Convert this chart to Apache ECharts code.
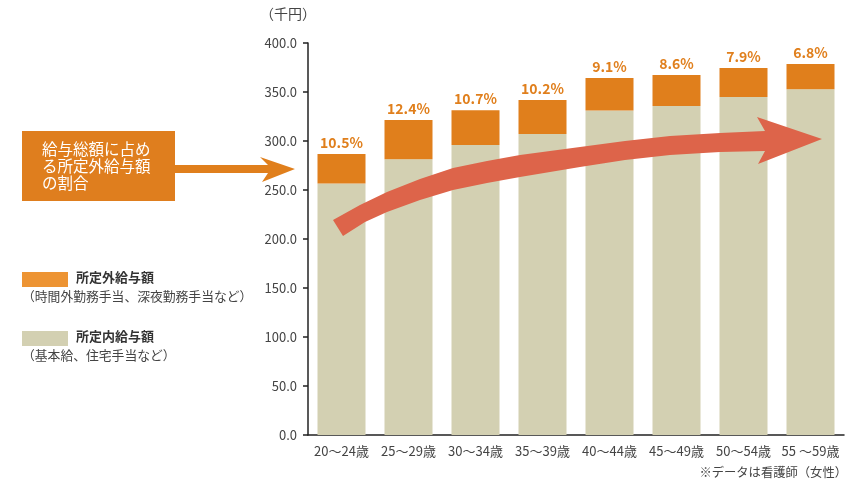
<!DOCTYPE html>
<html>
<head>
<meta charset="utf-8">
<script src="https://cdn.jsdelivr.net/npm/echarts@6/dist/echarts.min.js"></script>
<style>
  html, body { margin: 0; padding: 0; background: #fff; }
  #chart { width: 855px; height: 480px; }
</style>
</head>
<body>
<div id="chart"></div>
<script>
// 年齢階級
const ageGroups = ['20～24歳', '25～29歳', '30～34歳', '35～39歳', '40～44歳', '45～49歳', '50～54歳', '55 ～59歳'];
// 所定内給与額（千円）
const baseSalary = [256.6, 281.5, 296.0, 307.1, 331.1, 335.7, 344.9, 352.9];
// 所定外給与額（千円）
const overtimeSalary = [30.1, 39.9, 35.5, 34.7, 33.2, 31.6, 29.6, 25.7];
// 給与総額に占める所定外給与額の割合
const overtimeRatio = ['10.5%', '12.4%', '10.7%', '10.2%', '9.1%', '8.6%', '7.9%', '6.8%'];

const FONT = '"Noto Sans CJK JP", "Noto Sans", sans-serif';
const ORANGE = '#E07F1C';
const BEIGE = '#D3D0B2';

const chart = echarts.init(document.getElementById('chart'));

const option = {
  backgroundColor: '#fff',
  textStyle: { fontFamily: FONT },
  animation: false,
  grid: { left: 308, right: 11, top: 43, bottom: 45 },
  xAxis: {
    type: 'category',
    data: ageGroups,
    axisLine: { lineStyle: { color: '#222', width: 1.5 } },
    axisTick: { length: 5, lineStyle: { color: '#222', width: 1.5 } },
    axisLabel: { color: '#444', fontSize: 13, margin: 10, interval: 0, fontFamily: FONT },
  },
  yAxis: {
    type: 'value',
    min: 0,
    max: 400,
    interval: 50,
    splitLine: { show: false },
    axisLine: { show: true, lineStyle: { color: '#222', width: 1.5 } },
    axisTick: { show: true, length: 5, lineStyle: { color: '#222', width: 1.5 } },
    axisLabel: {
      color: '#444',
      fontSize: 13,
      margin: 11,
      fontFamily: FONT,
      formatter: (v) => v.toFixed(1),
    },
  },
  series: [
    {
      name: '所定内給与額',
      type: 'bar',
      stack: 'total',
      barWidth: 48,
      data: baseSalary,
      itemStyle: { color: BEIGE },
      z: 2,
    },
    {
      name: '所定外給与額',
      type: 'bar',
      stack: 'total',
      barWidth: 48,
      data: overtimeSalary,
      itemStyle: { color: ORANGE },
      label: {
        show: true,
        position: 'top',
        distance: 4,
        color: ORANGE,
        fontSize: 14,
        fontWeight: 'bold',
        fontFamily: FONT,
        formatter: (p) => overtimeRatio[p.dataIndex],
      },
      z: 2,
    },
  ],
  graphic: [
    // 単位
    {
      type: 'text', left: 260, top: 7,
      style: { text: '（千円）', fill: '#444', font: '14px ' + FONT },
    },
    // 注記
    {
      type: 'text', right: 8, top: 466,
      style: { text: '※データは看護師（女性）', fill: '#444', font: '12.3px ' + FONT },
    },
    // 説明ボックス
    {
      type: 'rect', shape: { x: 22, y: 131, width: 153, height: 70 },
      style: { fill: '#DF7E1E' },
    },
    {
      type: 'text', x: 42, y: 141,
      style: {
        text: '給与総額に占め\nる所定外給与額\nの割合',
        fill: '#fff',
        font: '15.5px ' + FONT,
        lineHeight: 17,
      },
    },
    {
      type: 'polygon',
      shape: { points: [[175, 165], [268, 165], [260, 157], [295, 169], [262, 182], [268, 173], [175, 173]] },
      style: { fill: '#E07F1C' },
    },
    // 凡例
    {
      type: 'rect', shape: { x: 22, y: 272, width: 46, height: 15 },
      style: { fill: '#ED9433' },
    },
    {
      type: 'text', x: 76, y: 271,
      style: { text: '所定外給与額', fill: '#333', font: 'bold 13px ' + FONT },
    },
    {
      type: 'text', x: 22, y: 290,
      style: { text: '（時間外勤務手当、深夜勤務手当など）', fill: '#444', font: '12.8px ' + FONT },
    },
    {
      type: 'rect', shape: { x: 22, y: 331, width: 46, height: 15 },
      style: { fill: BEIGE },
    },
    {
      type: 'text', x: 76, y: 330,
      style: { text: '所定内給与額', fill: '#333', font: 'bold 13px ' + FONT },
    },
    {
      type: 'text', x: 22, y: 349,
      style: { text: '（基本給、住宅手当など）', fill: '#444', font: '12.8px ' + FONT },
    },
    // 右肩上がりの矢印
    {
      type: 'polygon',
      z: 10,
      shape: {
        points: [
          [333, 220], [360, 205], [387, 192], [420, 179], [453, 168], [487, 161], [520, 155],
          [580, 147], [625, 141], [670, 136], [720, 133], [765, 131],
          [757, 117], [822, 139], [758, 164], [765, 151],
          [720, 152], [670, 155], [625, 160], [580, 167], [520, 177], [487, 183],
          [453, 190], [420, 200], [387, 212], [365, 222], [343, 236],
        ],
      },
      style: { fill: '#DD644A' },
    },
  ],
};

chart.setOption(option);
</script>
</body>
</html>
